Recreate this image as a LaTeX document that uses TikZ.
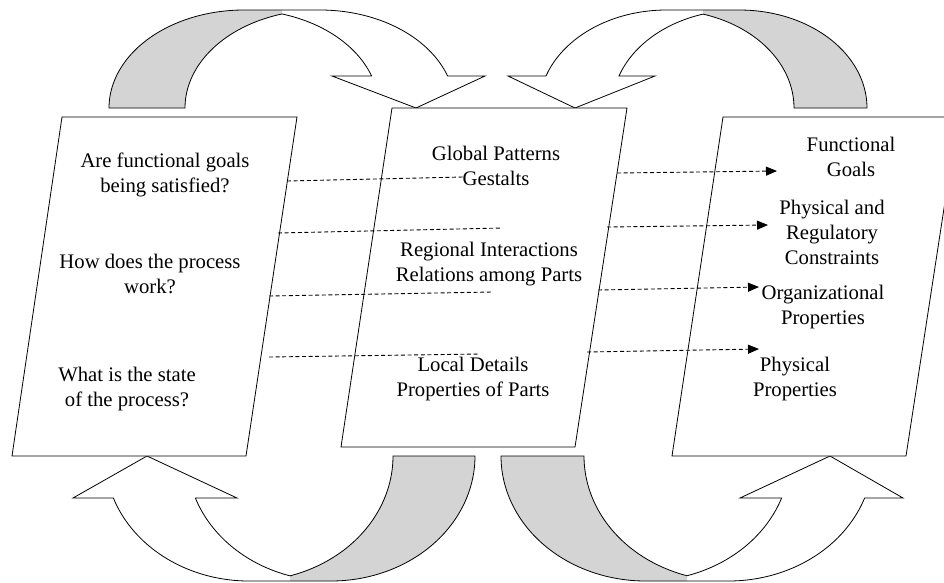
\documentclass[tikz,border=0pt]{standalone}
\usepackage{fontspec}
\setmainfont{Liberation Serif}
\usetikzlibrary{arrows.meta}
\definecolor{bandgrey}{RGB}{212,212,212}

% Outlines of the four curved ribbon arrows (x to the right, y downwards).
% Each ribbon is bounded by two equal ellipses shifted by the ribbon width.
\newcommand{\bandTL}{(185,108) -- (109,108)
  -- plot[domain=180:270] ({244+135*cos(\x)},{108+98*sin(\x)})
  -- plot[domain=270:340.94] ({320+135*cos(\x)},{108+98*sin(\x)})
  -- (485,76) -- (416,108) -- (332,76)
  -- plot[domain=340.94:286.35] ({244+135*cos(\x)},{108+98*sin(\x)})
  -- plot[domain=253.65:180] ({320+135*cos(\x)},{108+98*sin(\x)}) -- cycle}
\newcommand{\bandTR}{(794,108) -- (867,108)
  -- plot[domain=360:270] ({739.5+127.5*cos(\x)},{108+98*sin(\x)})
  -- plot[domain=270:199.06] ({666.5+127.5*cos(\x)},{108+98*sin(\x)})
  -- (508,76) -- (575,108) -- (655,76)
  -- plot[domain=199.06:253.36] ({739.5+127.5*cos(\x)},{108+98*sin(\x)})
  -- plot[domain=286.64:360] ({666.5+127.5*cos(\x)},{108+98*sin(\x)}) -- cycle}
\newcommand{\bandBL}{(393,456) -- (475,456)
  -- plot[domain=0:90] ({331+144*cos(\x)},{456+125*sin(\x)})
  -- plot[domain=90:160.37] ({249+144*cos(\x)},{456+125*sin(\x)})
  -- (73,498) -- (147,456) -- (237,498)
  -- plot[domain=160.37:106.54] ({331+144*cos(\x)},{456+125*sin(\x)})
  -- plot[domain=73.46:0] ({249+144*cos(\x)},{456+125*sin(\x)}) -- cycle}
\newcommand{\bandBR}{(584,456) -- (501,456)
  -- plot[domain=180:90] ({645.5+144.5*cos(\x)},{456+125*sin(\x)})
  -- plot[domain=90:19.63] ({728.5+144.5*cos(\x)},{456+125*sin(\x)})
  -- (903,498) -- (830,456) -- (740,498)
  -- plot[domain=19.63:73.31] ({645.5+144.5*cos(\x)},{456+125*sin(\x)})
  -- plot[domain=106.69:180] ({728.5+144.5*cos(\x)},{456+125*sin(\x)}) -- cycle}

\begin{document}
\begin{tikzpicture}[x=1pt,y=-1pt,
  outline/.style={draw=black,line width=0.8pt,line join=miter},
  panel/.style={outline,fill=white},
  label/.style={align=center,font=\fontsize{20.7}{25}\selectfont,inner sep=0pt},
  link/.style={line width=0.9pt,dash pattern=on 4pt off 2.6pt},
  linkarrow/.style={link,-{Triangle[length=11pt,width=9pt]}},
  every plot/.style={samples=60}]
\clip (0,0) rectangle (944,582);

% ---- curved ribbon arrows: white front, grey back, then the outline
\fill[white] \bandTL;
\begin{scope}\clip (0,0) rectangle (282,120); \fill[bandgrey] \bandTL; \end{scope}
\draw[outline] \bandTL;

\fill[white] \bandTR;
\begin{scope}\clip (703,0) rectangle (944,120); \fill[bandgrey] \bandTR; \end{scope}
\draw[outline] \bandTR;

\fill[white] \bandBL;
\begin{scope}\clip (290,440) rectangle (500,582); \fill[bandgrey] \bandBL; \end{scope}
\draw[outline] \bandBL;

\fill[white] \bandBR;
\begin{scope}\clip (480,440) rectangle (687,582); \fill[bandgrey] \bandBR; \end{scope}
\draw[outline] \bandBR;

% ---- the three slanted panels
\coordinate (q1) at (62,117);  \coordinate (q2) at (297,117);
\coordinate (q3) at (246,456); \coordinate (q4) at (12,456);
\coordinate (m1) at (392,108); \coordinate (m2) at (627,108);
\coordinate (m3) at (575,447); \coordinate (m4) at (341,447);
\coordinate (p1) at (723,117); \coordinate (p2) at (958,117);
\coordinate (p3) at (906,456); \coordinate (p4) at (672,456);
\path[panel] (q1) -- (q2) -- (q3) -- (q4) -- cycle;
\path[panel] (m1) -- (m2) -- (m3) -- (m4) -- cycle;
\path[panel] (p1) -- (p2) -- (p3) -- (p4) -- cycle;

% ---- questions
\node[label] (qgoal)  at (165,175) {Are functional goals\\being satisfied?};
\node[label] (qwork)  at (150,274) {How does the process\\work?};
\node[label] (qstate) at (127,389) {What is the state\\of the process?};

% ---- levels of the process
\node[label] (global)   at (496,166) {Global Patterns\\Gestalts};
\node[label] (regional) at (489,264) {Regional Interactions\\Relations among Parts};
\node[label] (local)    at (473,379) {Local Details\\Properties of Parts};

% ---- abstraction levels
\node[label] (fgoals)   at (851,157) {Functional\\Goals};
\node[label] (constr)   at (832,232) {Physical and\\Regulatory\\Constraints};
\node[label] (orgprop)  at (823,307) {Organizational\\Properties};
\node[label] (physprop) at (795,379) {Physical\\Properties};

% ---- dashed links
\coordinate (a1) at (287,181); \coordinate (b1) at (463,177);
\coordinate (a2) at (278,233); \coordinate (b2) at (502,228);
\coordinate (a3) at (269,296); \coordinate (b3) at (492,292);
\coordinate (a4) at (269,357); \coordinate (b4) at (480,354);
\draw[link] (a1) -- (b1);
\draw[link] (a2) -- (b2);
\draw[link] (a3) -- (b3);
\draw[link] (a4) -- (b4);

\coordinate (c1) at (617,173); \coordinate (d1) at (777,171);
\coordinate (c2) at (607,227); \coordinate (d2) at (768,225);
\coordinate (c3) at (598,290); \coordinate (d3) at (759,287);
\coordinate (c4) at (587,352); \coordinate (d4) at (759,349);
\draw[linkarrow] (c1) -- (d1);
\draw[linkarrow] (c2) -- (d2);
\draw[linkarrow] (c3) -- (d3);
\draw[linkarrow] (c4) -- (d4);
\end{tikzpicture}
\end{document}
